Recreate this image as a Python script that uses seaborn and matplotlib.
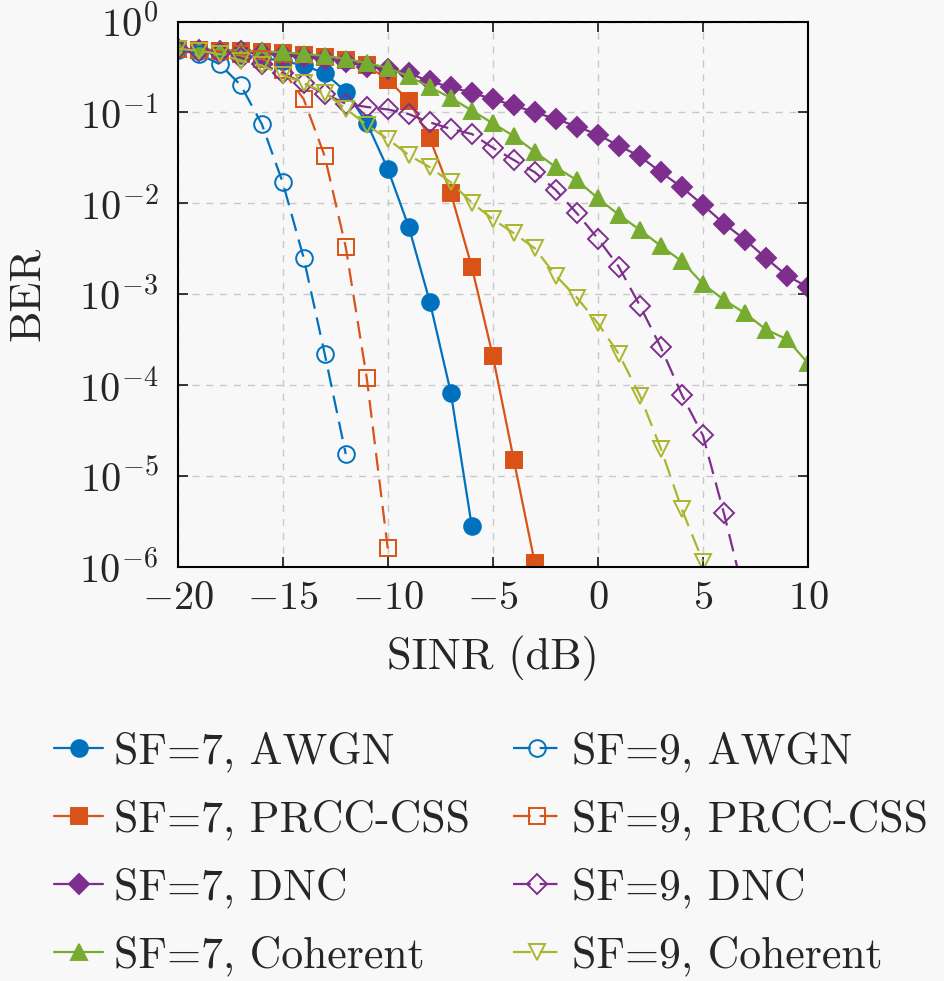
import numpy as np
import matplotlib
matplotlib.use("Agg")
import matplotlib.pyplot as plt
import pandas as pd
import seaborn as sns

# SINR axis (dB)
snr_all = list(range(-20, 11))

# SF=7 curves
awgn7_x = list(range(-20, -5))
awgn7 = [0.5, 0.48, 0.46, 0.43, 0.40, 0.37, 0.33, 0.27, 0.17, 0.077, 0.024,
         0.0055, 0.00083, 8.3e-5, 2.8e-6]
prcc7_x = list(range(-20, -2))
prcc7 = [0.5, 0.49, 0.48, 0.47, 0.46, 0.45, 0.43, 0.41, 0.38, 0.33, 0.23,
         0.135, 0.052, 0.013, 0.002, 2.1e-4, 1.5e-5, 1.1e-6]
dnc7_x = snr_all
dnc7 = [0.5, 0.49, 0.48, 0.47, 0.45, 0.43, 0.41, 0.39, 0.36, 0.32, 0.30,
        0.27, 0.22, 0.19, 0.165, 0.14, 0.12, 0.10, 0.085, 0.07, 0.057,
        0.043, 0.033, 0.022, 0.015, 0.0096, 0.006, 0.004, 0.0025, 0.0016, 0.0012]
coh7_x = snr_all
coh7 = [0.5, 0.49, 0.49, 0.48, 0.47, 0.46, 0.44, 0.42, 0.39, 0.35, 0.31,
        0.25, 0.19, 0.145, 0.105, 0.076, 0.055, 0.037, 0.025, 0.018, 0.0114,
        0.0075, 0.0051, 0.0034, 0.0023, 0.0013, 8.7e-4, 6.2e-4, 4.1e-4, 3.2e-4, 1.75e-4]

# SF=9 curves
awgn9_x = list(range(-20, -11))
awgn9 = [0.49, 0.44, 0.34, 0.2, 0.075, 0.017, 0.0025, 2.2e-4, 1.75e-5]
prcc9_x = list(range(-20, -9))
prcc9 = [0.5, 0.49, 0.47, 0.44, 0.39, 0.29, 0.14, 0.033, 0.0033, 1.2e-4, 1.6e-6]
dnc9_x = list(range(-20, 8))
dnc9 = [0.5, 0.48, 0.45, 0.40, 0.34, 0.27, 0.21, 0.16, 0.125, 0.115, 0.108,
        0.096, 0.078, 0.066, 0.058, 0.041, 0.030, 0.022, 0.014, 0.0078, 0.0041,
        0.002, 7.5e-4, 2.6e-4, 7.8e-5, 2.8e-5, 3.9e-6, 4.5e-7]
coh9_x = list(range(-20, 6))
coh9 = [0.5, 0.48, 0.44, 0.37, 0.33, 0.26, 0.21, 0.165, 0.11, 0.073, 0.051,
        0.034, 0.025, 0.017, 0.0102, 0.0067, 0.0047, 0.0032, 0.0016, 9.2e-4,
        4.8e-4, 2.2e-4, 7.7e-5, 2.0e-5, 4.3e-6, 1.15e-6]

x_ticks = [-20, -15, -10, -5, 0, 5, 10]

BLUE = "#0072BD"
ORANGE = "#D95319"
PURPLE = "#7E2F8E"
GREEN = "#77AC30"
OLIVE = "#A9B62E"
BG = "#f8f8f8"


def main():
    sns.set_theme(style="ticks")
    plt.rcParams["font.family"] = ["cmr10", "DejaVu Serif"]
    plt.rcParams["mathtext.fontset"] = "cm"
    plt.rcParams["axes.formatter.use_mathtext"] = True
    plt.rcParams["axes.unicode_minus"] = True

    fig = plt.figure(figsize=(9.45, 9.81), dpi=100, facecolor=BG)
    ax = fig.add_axes([0.188, 0.422, 0.667, 0.556])
    ax.set_facecolor(BG)

    series = [
        (awgn7_x, awgn7, "SF=7, AWGN", BLUE, "o", True, "-"),
        (prcc7_x, prcc7, "SF=7, PRCC-CSS", ORANGE, "s", True, "-"),
        (dnc7_x, dnc7, "SF=7, DNC", PURPLE, "D", True, "-"),
        (coh7_x, coh7, "SF=7, Coherent", GREEN, "^", True, "-"),
        (awgn9_x, awgn9, "SF=9, AWGN", BLUE, "o", False, "--"),
        (prcc9_x, prcc9, "SF=9, PRCC-CSS", ORANGE, "s", False, "--"),
        (dnc9_x, dnc9, "SF=9, DNC", PURPLE, "D", False, "--"),
        (coh9_x, coh9, "SF=9, Coherent", OLIVE, "v", False, "--"),
    ]

    for xs, ys, name, col, mk, filled, ls in series:
        df = pd.DataFrame({"snr": xs, "ber": ys})
        ms = 10 if mk == "D" else 12
        sns.lineplot(data=df, x="snr", y="ber", ax=ax, color=col, marker=mk,
                     markersize=ms, markeredgewidth=1.4, linewidth=1.6,
                     linestyle=ls, dashes=False,
                     markerfacecolor=col if filled else "none",
                     markeredgecolor=col, label=name)
        if ls == "--":
            ax.lines[-1].set_dashes([8, 4])

    ax.set_yscale("log")
    ax.set_xlim(-20, 10)
    ax.set_ylim(1e-6, 1)
    ax.set_xticks(x_ticks)
    ax.set_yticks([10.0 ** k for k in range(-6, 1)])
    ax.minorticks_off()
    ax.grid(True, which="major", linestyle=(0, (5, 5)), color="#c8c8c8", linewidth=1.0)
    ax.tick_params(direction="in", length=7, width=1.3, labelsize=29,
                   top=True, right=True, pad=10)
    ax.tick_params(axis="y", pad=14)
    for sp in ax.spines.values():
        sp.set_linewidth(1.5)
        sp.set_color("black")

    ax.set_xlabel("SINR (dB)", fontsize=32, labelpad=14)
    ax.set_ylabel("BER", fontsize=32, labelpad=22)

    handles, labels = ax.get_legend_handles_labels()
    ax.legend_.remove()
    fig.legend(handles, labels, ncol=2, loc="lower center",
               bbox_to_anchor=(0.52, -0.02), frameon=False, fontsize=31.5,
               handlelength=1.1, handletextpad=0.25, columnspacing=1.0,
               labelspacing=0.63, borderaxespad=0.15)

    fig.savefig("out.png", dpi=100, facecolor=BG)


if __name__ == "__main__":
    main()
